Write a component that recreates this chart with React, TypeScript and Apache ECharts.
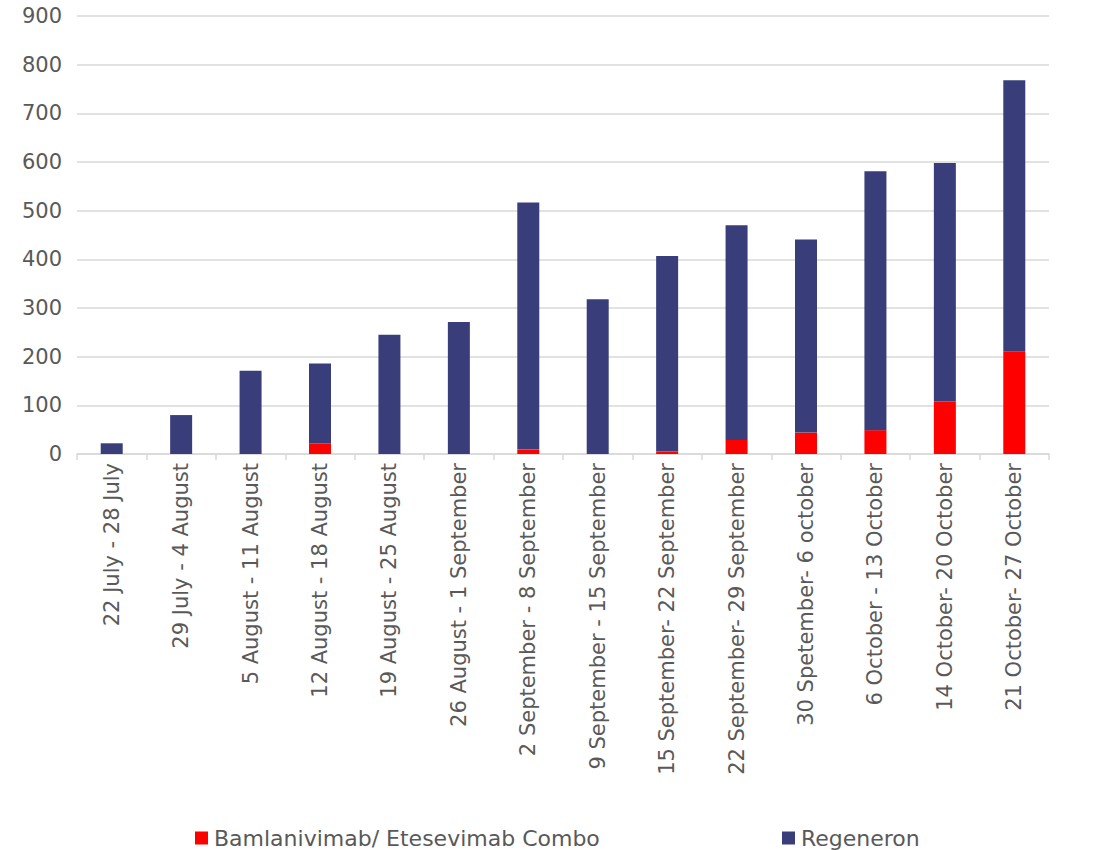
import React, { useEffect, useRef } from "react";
import * as echarts from "echarts";

const categories = [
  "22 July - 28 July",
  "29 July - 4 August",
  "5 August - 11 August",
  "12 August - 18 August",
  "19 August - 25 August",
  "26 August - 1 September",
  "2 September - 8 September",
  "9 September - 15 September",
  "15 September- 22 September",
  "22 September- 29 September",
  "30 Spetember- 6 october",
  "6 October - 13 October",
  "14 October- 20 October",
  "21 October- 27 October",
];

const bamlanivimab = [0, 0, 0, 22, 0, 0, 9, 0, 5, 29, 44, 49, 108, 211];
const regeneron = [22, 80, 171, 164, 245, 271, 508, 318, 402, 441, 397, 532, 490, 557];

const seriesNames = ["Bamlanivimab/ Etesevimab Combo", "Regeneron"];
const yMin = 0;
const yMax = 900;
const yInterval = 100;

const FONT = "'DejaVu Sans', 'Open Sans', sans-serif";
const TEXT = "#595959";
const GRID = "#d9d9d9";

export default function App() {
  const ref = useRef<HTMLDivElement>(null);
  useEffect(() => {
    document.body.style.margin = "0";
    if (!ref.current) return;
    const chart = echarts.init(ref.current, undefined, { renderer: "svg" });
    const legendBase = {
      top: 822,
      itemWidth: 13,
      itemHeight: 13,
      itemGap: 6,
      icon: "rect",
      textStyle: { fontSize: 22, color: TEXT, fontFamily: FONT, padding: [0, 0, 0, 1] },
    };
    chart.setOption({
      animation: false,
      backgroundColor: "#ffffff",
      textStyle: { fontFamily: FONT },
      grid: { left: 77, right: 70, top: 16, bottom: 396, containLabel: false },
      legend: [
        { ...legendBase, left: 190, data: [seriesNames[0]] },
        { ...legendBase, left: 777, data: [seriesNames[1]] },
      ],
      xAxis: {
        type: "category",
        data: categories,
        axisLine: { show: true, lineStyle: { color: GRID, width: 1.5 } },
        axisTick: { show: true, length: 6, lineStyle: { color: GRID, width: 1.5 } },
        axisLabel: {
          rotate: 90,
          interval: 0,
          margin: 9,
          fontSize: 21,
          color: TEXT,
          fontFamily: FONT,
        },
      },
      yAxis: {
        type: "value",
        min: yMin,
        max: yMax,
        interval: yInterval,
        axisLine: { show: false },
        axisTick: { show: false },
        axisLabel: { fontSize: 21, color: TEXT, margin: 15, fontFamily: FONT },
        splitLine: { lineStyle: { color: GRID, width: 1.5 } },
      },
      series: [
        {
          name: seriesNames[0],
          type: "bar",
          stack: "total",
          data: bamlanivimab,
          barWidth: 22,
          itemStyle: { color: "#ff0000" },
        },
        {
          name: seriesNames[1],
          type: "bar",
          stack: "total",
          data: regeneron,
          barWidth: 22,
          itemStyle: { color: "#393e7b" },
        },
      ],
    });
    return () => chart.dispose();
  }, []);
  return <div ref={ref} style={{ width: 1119, height: 850 }} />;
}
